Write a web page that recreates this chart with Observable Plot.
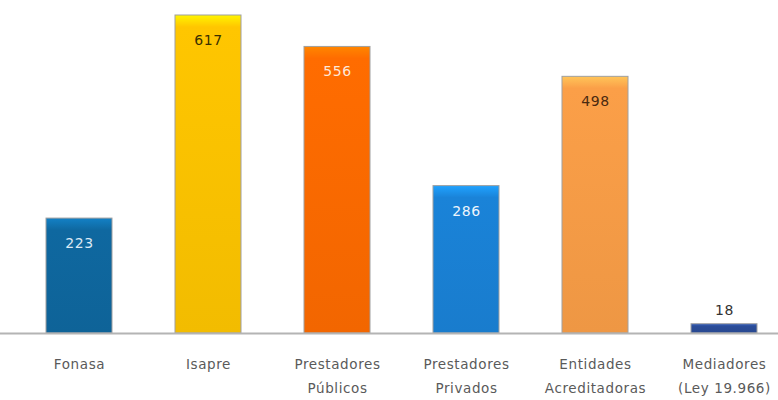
<!DOCTYPE html>
<html>
<head>
<meta charset="utf-8">
<script src="https://cdn.jsdelivr.net/npm/d3@7"></script>
<script src="https://cdn.jsdelivr.net/npm/@observablehq/plot@0.6"></script>
<style>
html,body{margin:0;padding:0;background:#fff;}
</style>
</head>
<body>
<div id="chart"></div>
<script>
const categories = ["Fonasa", "Isapre", "Prestadores\nPúblicos", "Prestadores\nPrivados", "Entidades\nAcreditadoras", "Mediadores\n(Ley 19.966)"];
const values = [223, 617, 556, 286, 498, 18];
const colors = ["#0f68a0", "#ffc600", "#ff6c00", "#1a83d8", "#fb9f48", "#2a4c98"];
const labelColors = ["#dce9f5", "#3a3000", "#fde8d8", "#eef5fc", "#4a2a10", "#333333"];

const data = categories.map((c, i) => ({cat: c, value: values[i], color: colors[i], lc: labelColors[i], inside: values[i] > 100}));

const chart = Plot.plot({
  width: 778,
  height: 400,
  marginTop: 15,
  marginBottom: 67,
  marginLeft: 0,
  marginRight: 0,
  style: {background: "#fff", fontFamily: "'DejaVu Sans', sans-serif", letterSpacing: "0.6px"},
  x: {domain: categories, range: [12, 791], paddingInner: 0.49, paddingOuter: 0.245, label: null},
  y: {domain: [0, 617], axis: null},
  marks: [
    Plot.barY(data, {x: "cat", y: "value", fill: (d, i) => `url(#g${i})`, stroke: "#a0a0a0", strokeWidth: 1}),
    Plot.ruleY([0], {stroke: "#b4b4b4", strokeWidth: 2}),
    Plot.text(data.filter(d => d.inside), {x: "cat", y: "value", text: d => String(d.value), dy: 25, fill: "lc", fontSize: 14}),
    Plot.text(data.filter(d => !d.inside), {x: "cat", y: "value", text: d => String(d.value), dy: -14, fill: "lc", fontSize: 14}),
    Plot.axisX({tickSize: 0, tickPadding: 19, lineHeight: 1.75, fontSize: 13.5, fill: "#5a5a5a", label: null})
  ]
});

// gradients for bevelled bar look
const svg = d3.select(chart);
const defs = svg.insert("defs", ":first-child");
colors.forEach((c, i) => {
  const g = defs.append("linearGradient").attr("id", `g${i}`).attr("x1", 0).attr("y1", 0).attr("x2", 0).attr("y2", 1);
  const light = d3.color(c).brighter(0.6).formatHex();
  const stopTop = values[i] > 100 ? 12 / (values[i] * 318 / 617) : 0.3;
  g.append("stop").attr("offset", 0).attr("stop-color", light);
  g.append("stop").attr("offset", stopTop).attr("stop-color", c);
  g.append("stop").attr("offset", 1).attr("stop-color", d3.color(c).darker(0.15).formatHex());
});

document.getElementById("chart").appendChild(chart);
</script>
</body>
</html>
